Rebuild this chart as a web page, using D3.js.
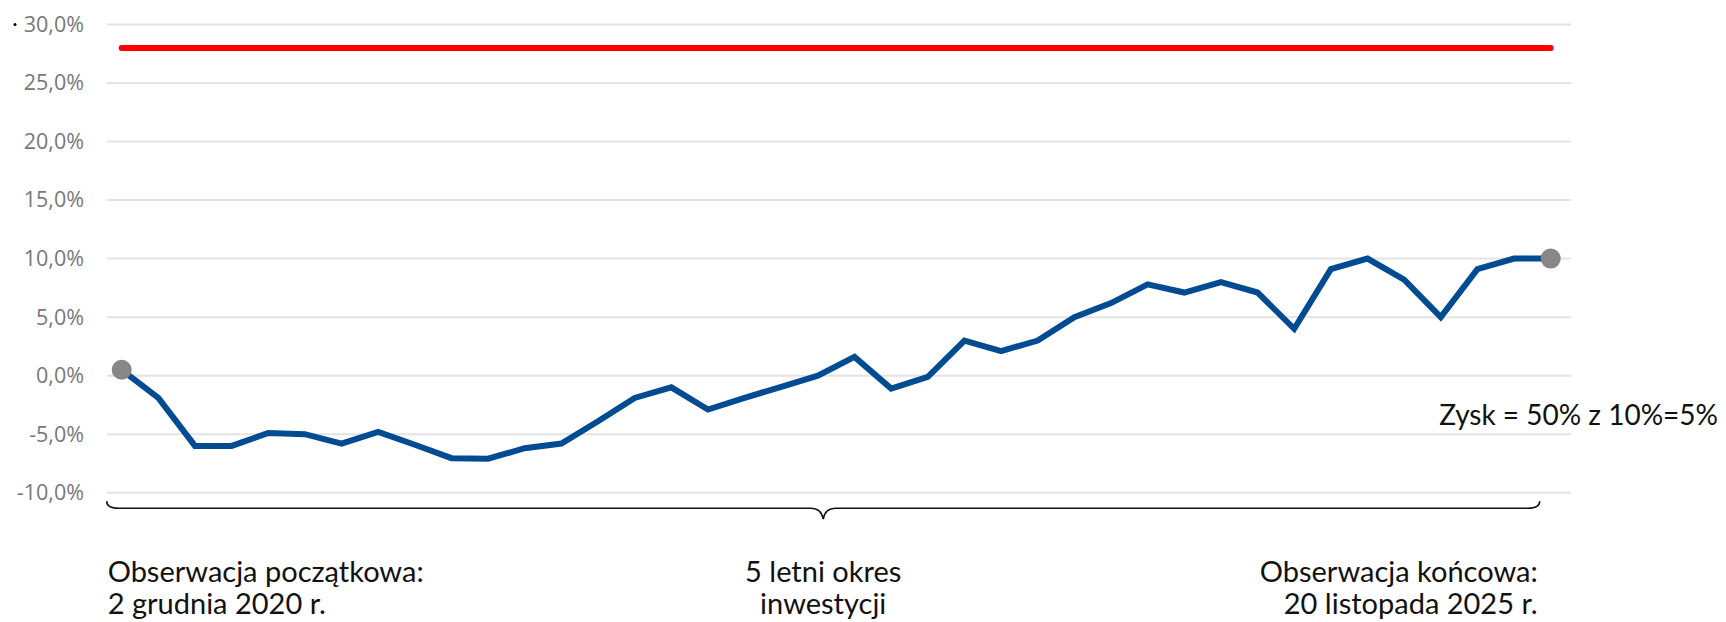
<!DOCTYPE html>
<html>
<head>
<meta charset="utf-8">
<script src="https://cdn.jsdelivr.net/npm/d3@7"></script>
<style>
  html, body { margin: 0; padding: 0; background: #fff; }
  svg { display: block; }
</style>
</head>
<body>
<svg id="chart" width="1726" height="622"></svg>
<script>
// ---- data ----
const periods = d3.range(40); // observation index (start .. end)
const returns = [0.5, -1.9, -6.0, -6.0, -4.9, -5.0, -5.8, -4.8, -5.9, -7.05,
                 -7.1, -6.2, -5.8, -3.9, -1.9, -1.0, -2.9, -1.9, -0.95, 0.0,
                 1.6, -1.1, -0.1, 3.0, 2.1, 3.0, 5.0, 6.2, 7.8, 7.1,
                 8.0, 7.1, 4.0, 9.1, 10.0, 8.2, 5.0, 9.1, 10.0, 10.0];
const barrier = 28; // red level
const yTicks = [-10, -5, 0, 5, 10, 15, 20, 25, 30];
const yTickLabels = ["-10,0%", "-5,0%", "0,0%", "5,0%", "10,0%", "15,0%", "20,0%", "25,0%", "30,0%"];
const startLabel = ["Obserwacja początkowa:", "2 grudnia 2020 r."];
const midLabel = ["5 letni okres", "inwestycji"];
const endLabel = ["Obserwacja końcowa:", "20 listopada 2025 r."];
const profitLabel = "Zysk = 50% z 10%=5%";

// ---- scales ----
const svg = d3.select("#chart");
const x = d3.scaleLinear().domain([0, periods.length - 1]).range([121.7, 1550.7]);
const y = d3.scaleLinear().domain([-10, 30]).range([492.7, 24.5]);
const gridX0 = 107, gridX1 = 1571;

// gridlines
svg.append("g").selectAll("line").data(yTicks).join("line")
  .attr("x1", gridX0).attr("x2", gridX1)
  .attr("y1", d => y(d)).attr("y2", d => y(d))
  .attr("stroke", "#e3e3e3").attr("stroke-width", 2);

// y axis labels
const yAxis = d3.axisLeft(y).tickValues(yTicks)
  .tickFormat((d, i) => yTickLabels[i]).tickSize(0).tickPadding(0);
const ga = svg.append("g").attr("transform", "translate(84,0)").call(yAxis);
ga.select(".domain").remove();
ga.selectAll("text")
  .attr("font-family", "'Open Sans', sans-serif")
  .attr("font-size", 21.5)
  .attr("fill", "#787878");

// tiny dot left of the top label
svg.append("circle").attr("cx", 15).attr("cy", y(30)).attr("r", 1.5).attr("fill", "#000");

// red barrier line
const line = d3.line().x((d, i) => x(i)).y(d => y(d));
svg.append("path")
  .datum(periods.map(() => barrier))
  .attr("d", line)
  .attr("fill", "none").attr("stroke", "#ff0000")
  .attr("stroke-width", 6).attr("stroke-linecap", "round");

// blue series
svg.append("path")
  .datum(returns)
  .attr("d", line)
  .attr("fill", "none").attr("stroke", "#004b91")
  .attr("stroke-width", 6).attr("stroke-linejoin", "miter");

// endpoint markers
svg.append("g").selectAll("circle")
  .data([0, returns.length - 1]).join("circle")
  .attr("cx", i => x(i)).attr("cy", i => y(returns[i]))
  .attr("r", 10).attr("fill", "#878787");

// brace
const bL = x(0) - 15, bR = x(periods.length - 1) - 11, bM = (bL + bR) / 2;
const bY = y(-10) + 15.5, bTop = bY - 7, bTip = bY + 11;
const bracePath = [
  `M${bL},${bTop}`,
  `Q${bL},${bY} ${bL + 12},${bY}`,
  `L${bM - 12},${bY}`,
  `Q${bM - 2},${bY} ${bM},${bTip}`,
  `Q${bM + 2},${bY} ${bM + 12},${bY}`,
  `L${bR - 12},${bY}`,
  `Q${bR},${bY} ${bR},${bTop}`
].join(" ");
svg.append("path").attr("d", bracePath)
  .attr("fill", "none").attr("stroke", "#111").attr("stroke-width", 1.6);

// annotations
const annFont = "Lato, sans-serif";
function block(lines, xPos, anchor) {
  const t = svg.append("text")
    .attr("font-family", annFont).attr("font-size", 29)
    .attr("fill", "#111").attr("text-anchor", anchor);
  lines.forEach((s, i) => {
    t.append("tspan").attr("x", xPos).attr("y", 582 + i * 32.3).text(s);
  });
}
block(startLabel, bL + 1, "start");
block(midLabel, bM, "middle");
block(endLabel, bR - 2, "end");

svg.append("text")
  .attr("x", 1718).attr("y", 425).attr("text-anchor", "end")
  .attr("font-family", annFont).attr("font-size", 28)
  .attr("fill", "#111").text(profitLabel);
</script>
</body>
</html>
